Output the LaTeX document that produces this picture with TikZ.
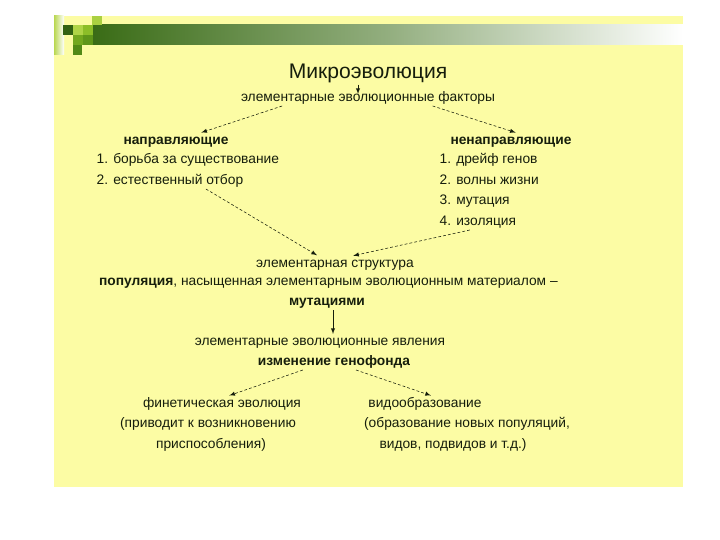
\documentclass[tikz,border=0pt]{standalone}
\usepackage{fontspec}
\setmainfont{Liberation Sans}
\usepackage{xcolor}
\usetikzlibrary{arrows, positioning, calc}

\definecolor{slideyellow}{RGB}{252,252,164}
\definecolor{textdark}{RGB}{22,30,12}
\definecolor{bandgreen}{RGB}{58,108,22}
\definecolor{sqlight}{RGB}{185,215,80}
\definecolor{sqdark}{RGB}{50,98,18}
\definecolor{sqlimeA}{RGB}{175,212,70}
\definecolor{sqlimeB}{RGB}{140,190,40}
\definecolor{sqlimeC}{RGB}{115,168,30}
\definecolor{sqlimeD}{RGB}{95,150,25}
\definecolor{sqtop}{RGB}{170,208,65}
\definecolor{sqlow}{RGB}{82,138,22}

\begin{document}
\begin{tikzpicture}[every node/.style={font=\fontsize{9.8}{11}\selectfont, text=textdark, inner sep=1pt, text height=7pt, text depth=2pt},
    arr/.style={-latex, thin, textdark},
    darr/.style={-latex, thin, textdark, dash pattern=on 2pt off 1.5pt, shorten >=1pt}]
        \useasboundingbox (0,0) rectangle (18,13.5);
        % Slide background
        \fill[slideyellow] (1.35,1.325) rectangle (17.075,13.1);
        
        % Header band and squares
        \shade[left color=bandgreen, right color=white, middle color=bandgreen!55!white] (2.325,12.375) rectangle (17.075,12.875);
        \shade[left color=sqlight, right color=white] (1.35,12.125) rectangle (1.6,13.1);
        \fill[sqdark] (1.575,12.625) rectangle (1.825,12.875);
        \fill[sqlimeA] (1.825,12.625) rectangle (2.075,12.875);
        \fill[sqlimeB] (2.075,12.625) rectangle (2.325,12.875);
        \fill[sqlimeC] (1.825,12.375) rectangle (2.075,12.625);
        \fill[sqlimeD] (2.075,12.375) rectangle (2.325,12.625);
        \fill[sqtop] (2.3,12.875) rectangle (2.55,13.1);
        \fill[sqlow] (1.825,12.125) rectangle (2.05,12.375);
        
        % Top
        \node[font=\fontsize{15}{17}\selectfont, text height=11pt, text depth=3pt] (T) at (9.2,11.675) {Микроэволюция};
        \node (F) at (9.2,11.05) {элементарные эволюционные факторы};
        \draw[arr] ([xshift=-0.25cm]T.south) -- ([xshift=-0.25cm,yshift=-0.1cm]F.north);
        
        % Factors
        \node[font=\fontsize{9.8}{11}\selectfont\bfseries] (DIR) at (4.4,9.975) {направляющие};
        \node[anchor=west] (D1) at (2.375,9.5) {1. борьба за существование};
        \node[anchor=west] (D2) at (2.375,8.975) {2. естественный отбор};
        \node[font=\fontsize{9.8}{11}\selectfont\bfseries] (NDIR) at (12.775,9.975) {ненаправляющие};
        \node[anchor=west] (N1) at (10.95,9.5) {1. дрейф генов};
        \node[anchor=west] (N2) at (10.95,8.975) {2. волны жизни};
        \node[anchor=west] (N3) at (10.95,8.475) {3. мутация};
        \node[anchor=west] (N4) at (10.95,7.95) {4. изоляция};
        \draw[darr] ([xshift=1.07cm]F.south west) -- ([xshift=0.6cm]DIR.north);
        \draw[darr] ([xshift=-1.6cm]F.south east) -- ([xshift=0.15cm]NDIR.north);
        
        % Structure
        \node (S) at (8.375,6.9) {элементарная структура};
        \node (POP) at (8.21,6.45) {\textbf{популяция}, насыщенная элементарным эволюционным материалом --};
        \node[font=\fontsize{9.8}{11}\selectfont\bfseries] (M) at (8.175,5.95) {мутациями};
        \draw[darr] ([xshift=0.9cm]D2.south) -- ([xshift=-0.42cm]S.north);
        \draw[darr] ([xshift=-0.2cm]N4.south) -- ([xshift=0.42cm]S.north);
        
        % Phenomena
        \node (E) at (8.0,4.95) {элементарные эволюционные явления};
        \node[font=\fontsize{9.8}{11}\selectfont\bfseries] (G) at (8.35,4.45) {изменение генофонда};
        \draw[arr] ([xshift=0.15cm]M.south) -- ([xshift=0.15cm]M.south |- E.north);
        
        % Results
        \node (P1) at (5.55,3.4) {финетическая эволюция};
        \node (P2) at (5.2,2.9) {(приводит к возникновению};
        \node (P3) at (5.275,2.375) {приспособления)};
        \node (V1) at (10.625,3.4) {видообразование};
        \node (V2) at (11.675,2.9) {(образование новых популяций,};
        \node (V3) at (11.325,2.375) {видов, подвидов и т.д.)};
        \draw[darr] ([xshift=-0.78cm]G.south) -- ([xshift=0.15cm]P1.north);
        \draw[darr] ([xshift=0.55cm]G.south) -- ([xshift=0.18cm]V1.north);
        
    \end{tikzpicture}
\end{document}
